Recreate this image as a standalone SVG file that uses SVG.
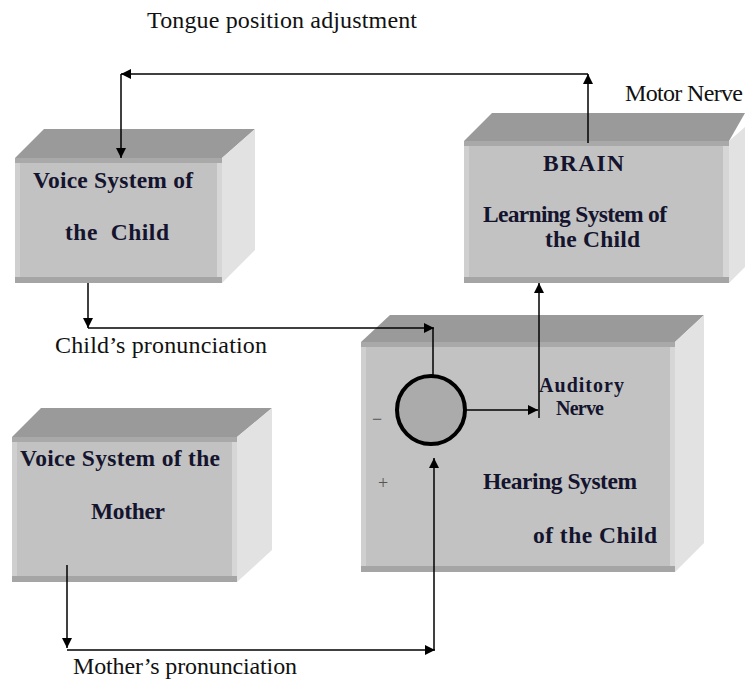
<svg xmlns="http://www.w3.org/2000/svg" width="745" height="680" viewBox="0 0 745 680">
<defs>
<style>
.top{fill:#9a9a9a}
.side{fill:#e2e2e2}
.front{fill:#c2c2c2}
.ftop{fill:#a9a9a9}
.fleft{fill:#cfcfcf}
.fright{fill:#d6d6d6}
.fbot{fill:#a5a5a5}
.bt{font-family:"Liberation Serif",serif;font-weight:bold;font-size:23.5px;fill:#14142e}
.lt{font-family:"Liberation Serif",serif;font-size:24px;fill:#111}
.ln{stroke:#000;stroke-width:1.5;fill:none}
</style>
<marker id="ah" viewBox="0 0 10 10" refX="10" refY="5" markerWidth="10" markerHeight="10" markerUnits="userSpaceOnUse" orient="auto">
<path d="M0,0 L10,5 L0,10 Z" fill="#000"/>
</marker>
</defs>
<rect width="745" height="680" fill="#fff"/>

<g id="voice-child">
<polygon class="top" points="15,158 44,129 255,129 222,158"/>
<polygon class="side" points="222,158 255,129 255,250 222,283"/>
<rect class="front" x="15" y="158" width="207" height="125"/>
<rect class="ftop" x="15" y="158" width="207" height="5"/>
<rect class="fleft" x="15" y="163" width="5" height="115"/>
<rect class="fright" x="217" y="163" width="5" height="115"/>
<rect class="fbot" x="15" y="277" width="207" height="6"/>
<text class="bt" x="33" y="188" textLength="160">Voice System of</text>
<text class="bt" x="65" y="240" xml:space="preserve" textLength="104">the  Child</text>
</g>

<g id="brain">
<polygon class="top" points="464,141 492,113 745,113 729,141"/>
<polygon class="side" points="729,141 745,127 745,267 729,283"/>
<rect class="front" x="464" y="141" width="265" height="142"/>
<rect class="ftop" x="464" y="141" width="265" height="5"/>
<rect class="fleft" x="464" y="146" width="5" height="131"/>
<rect class="fright" x="723" y="146" width="6" height="131"/>
<rect class="fbot" x="464" y="277" width="265" height="6"/>
<text class="bt" x="543" y="171" textLength="81">BRAIN</text>
<text class="bt" x="483" y="222" textLength="184">Learning System of</text>
<text class="bt" x="545" y="247" textLength="95">the Child</text>
</g>

<g id="hearing">
<polygon class="top" points="361,342 390,315 704,315 675,342"/>
<polygon class="side" points="675,342 704,315 704,543 675,572"/>
<rect class="front" x="361" y="342" width="314" height="230"/>
<rect class="ftop" x="361" y="342" width="314" height="5"/>
<rect class="fleft" x="361" y="347" width="5" height="219"/>
<rect class="fright" x="670" y="347" width="5" height="219"/>
<rect class="fbot" x="361" y="566" width="314" height="6"/>
<text class="bt" x="483" y="489" textLength="154">Hearing System</text>
<text class="bt" x="533" y="543" textLength="124">of the Child</text>
<text class="bt" x="539" y="392" style="font-size:20px" textLength="85">Auditory</text>
<text class="bt" x="556" y="415" style="font-size:20px" textLength="48">Nerve</text>
<text class="lt" x="372" y="425" style="font-size:18px;fill:#555">−</text>
<text class="lt" x="378" y="489" style="font-size:18px;fill:#555">+</text>
</g>

<g id="comparator">
<circle cx="431" cy="410" r="34" fill="#ababab" stroke="#000" stroke-width="4"/>
</g>

<g id="voice-mother">
<polygon class="top" points="12,437 41,408 272,408 237,437"/>
<polygon class="side" points="237,437 272,408 272,550 237,582"/>
<rect class="front" x="12" y="437" width="225" height="145"/>
<rect class="ftop" x="12" y="437" width="225" height="5"/>
<rect class="fleft" x="12" y="442" width="5" height="134"/>
<rect class="fright" x="232" y="442" width="5" height="134"/>
<rect class="fbot" x="12" y="576" width="225" height="6"/>
<text class="bt" x="20" y="466" textLength="200">Voice System of the</text>
<text class="bt" x="91" y="519" textLength="74">Mother</text>
</g>

<g id="labels">
<text class="lt" x="147" y="28" textLength="270">Tongue position adjustment</text>
<text class="lt" x="625" y="101" textLength="118">Motor Nerve</text>
<text class="lt" x="55" y="353" textLength="212">Child’s pronunciation</text>
<text class="lt" x="73" y="674" textLength="224">Mother’s pronunciation</text>
</g>

<g id="connectors">
<polyline class="ln" points="588,143 588,74" marker-end="url(#ah)"/>
<polyline class="ln" points="588,74 121,74" marker-end="url(#ah)"/>
<polyline class="ln" points="121,74 121,158" marker-end="url(#ah)"/>
<polyline class="ln" points="88,283 88,328" marker-end="url(#ah)"/>
<polyline class="ln" points="88,328 434,328" marker-end="url(#ah)"/>
<polyline class="ln" points="433,328 433,376"/>
<polyline class="ln" points="465,410 538,410" marker-end="url(#ah)"/>
<polyline class="ln" points="539,418 539,283" marker-end="url(#ah)"/>
<polyline class="ln" points="67,565 67,648" marker-end="url(#ah)"/>
<polyline class="ln" points="67,650 435,650" marker-end="url(#ah)"/>
<polyline class="ln" points="434,650 434,458" marker-end="url(#ah)"/>
</g>
</svg>
